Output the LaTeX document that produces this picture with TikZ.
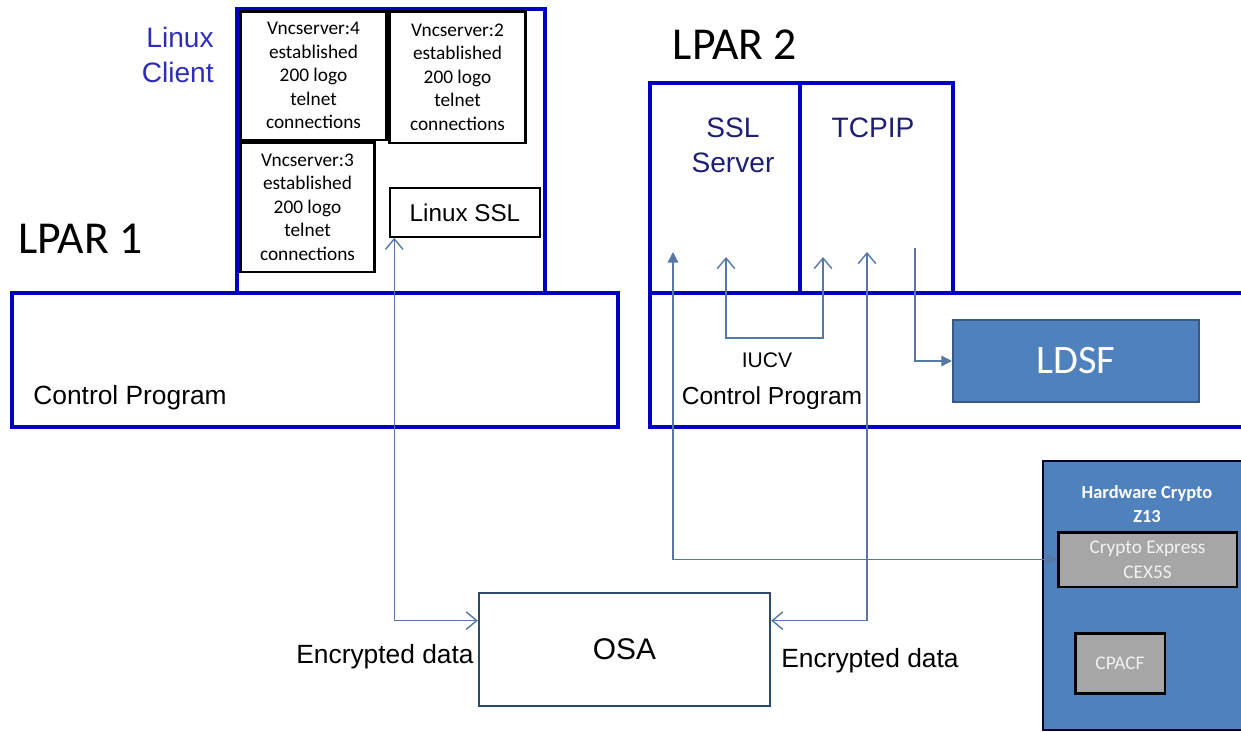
\documentclass[tikz,border=0pt]{standalone}
\usepackage{fontspec}
\setmainfont{Liberation Sans}
\newfontfamily\calibri{Carlito}
\usetikzlibrary{arrows.meta, positioning, calc}
\definecolor{lparblue}{RGB}{0,0,190}
\definecolor{clientblue}{RGB}{45,45,185}
\definecolor{navytext}{RGB}{30,30,115}
\definecolor{linkblue}{RGB}{85,120,165}
\definecolor{steelfill}{RGB}{79,129,189}
\definecolor{steeldraw}{RGB}{55,90,135}
\definecolor{osadraw}{RGB}{45,75,105}
\definecolor{cryptogray}{RGB}{166,166,166}

\tikzset{
    lparline/.style={draw=lparblue, line width=2.8pt},
    vncbox/.style={draw=black, line width=1.7pt, inner sep=0pt, align=center,
        font=\calibri\fontsize{11}{13.4}\selectfont},
    graybox/.style={draw=black, fill=cryptogray, line width=1.7pt, inner sep=0pt, align=center,
        text=white!90!gray, font=\calibri\fontsize{11}{14}\selectfont},
    link/.style={draw=linkblue, line width=0.8pt, >={Straight Barb[length=6pt,width=10pt]}},
    labeltext/.style={inner sep=0pt, font=\fontsize{15}{18}\selectfont}
}

\begin{document}
\begin{tikzpicture}[x=0.02cm, y=-0.02cm]
    \useasboundingbox (0,0) rectangle (1241,731);
    \clip (0,0) rectangle (1241,731);

    % LPAR 1
    \draw[lparline] (12,293) rectangle (618,427);
    \draw[lparline] (237,293) -- (237,9) -- (545,9) -- (545,293);
    \node[inner sep=0pt, anchor=west, font=\calibri\fontsize{26}{30}\selectfont] (lpar1) at (18,239) {LPAR 1};
    \node[inner sep=0pt, anchor=east, align=right, text=clientblue, font=\fontsize{16}{20}\selectfont] (client) at (214,55) {Linux\\Client};
    \node[vncbox, minimum width=2.94cm, minimum height=2.58cm] (vnc4) at (313.5,75.5) {Vncserver:4\\established\\200 logo\\telnet\\connections};
    \node[vncbox, minimum width=2.74cm, minimum height=2.64cm] (vnc2) at (457.5,77) {Vncserver:2\\established\\200 logo\\telnet\\connections};
    \node[vncbox, minimum width=2.7cm, minimum height=2.6cm] (vnc3) at (307.5,207) {Vncserver:3\\established\\200 logo\\telnet\\connections};
    \node[draw=black, line width=0.9pt, inner sep=0pt, minimum width=3cm, minimum height=0.98cm, font=\fontsize{13.8}{16}\selectfont] (linuxssl) at (465,212.5) {Linux SSL};
    \node[labeltext, anchor=west] (cp1) at (33,398) {Control Program};

    % LPAR 2
    \draw[lparline] (650,293) rectangle (1270,427);
    \draw[lparline] (650,293) -- (650,83) -- (953,83) -- (953,293);
    \draw[lparline] (800,83) -- (800,293);
    \node[inner sep=0pt, font=\calibri\fontsize{26}{30}\selectfont] (lpar2) at (735,45) {LPAR 2};
    \node[inner sep=0pt, align=center, text=navytext, font=\fontsize{16}{20}\selectfont] (sslserver) at (733,145.5) {SSL\\Server};
    \node[inner sep=0pt, text=navytext, font=\fontsize{16}{20}\selectfont] (tcpip) at (873,128) {TCPIP};
    \node[inner sep=0pt, font=\fontsize{12}{14}\selectfont] (iucv) at (767,360) {IUCV};
    \node[labeltext, font=\fontsize{14}{17}\selectfont] (cp2) at (772,398) {Control Program};
    \node[fill=steelfill, draw=steeldraw, line width=1.2pt, minimum width=4.92cm, minimum height=1.64cm, text=white, font=\calibri\fontsize{23}{26}\selectfont] (ldsf) at (1076,361) {LDSF};

    % Hardware crypto
    \node[draw=black!80!blue, fill=steelfill, line width=1.2pt, anchor=north west, minimum width=4.56cm, minimum height=5.38cm] (hwcrypto) at (1042,460) {};
    \node[inner sep=0pt, align=center, text=white, font=\calibri\bfseries\fontsize{10.5}{14}\selectfont] (hwtext) at (1147,504) {Hardware Crypto\\Z13};
    \node[graybox, minimum width=3.58cm, minimum height=1.1cm] (cryptoexp) at (1147.5,559.5) {Crypto Express\\CEX5S};
    \node[graybox, minimum width=1.8cm, minimum height=1.2cm] (cpacf) at (1120,663) {CPACF};

    % OSA
    \node[draw=osadraw, line width=1.4pt, minimum width=5.82cm, minimum height=2.26cm, font=\fontsize{17}{20}\selectfont] (osa) at (624.5,649.5) {OSA};
    \node[labeltext, anchor=east] (encleft) at (474,657) {Encrypted data};
    \node[labeltext, anchor=west] (encright) at (781,661) {Encrypted data};

    % Connections
    \coordinate (sslhw) at (673,252);
    \coordinate (tcposa) at (867,252);
    \coordinate (iucvA) at (726,257);
    \coordinate (iucvB) at (823,257);
    \coordinate (iucvbend) at (726,338);
    \coordinate (tcpout) at (915,248);
    \draw[link, <->] ([xshift=0.1cm]linuxssl.south west) |- ($(osa.north west)!0.25!(osa.south west)$);
    \draw[link, <->] (tcposa) |- ($(osa.north east)!0.25!(osa.south east)$);
    \draw[link, {Triangle[length=6pt,width=6pt]}-{Triangle[length=6pt,width=6pt]}] (sslhw) |- (cryptoexp.west);
    \draw[link, <->] (iucvA) -- (iucvbend) -| (iucvB);
    \draw[link, -{Triangle[length=6pt,width=6pt]}] (tcpout) |- (ldsf.west);
\end{tikzpicture}
\end{document}
